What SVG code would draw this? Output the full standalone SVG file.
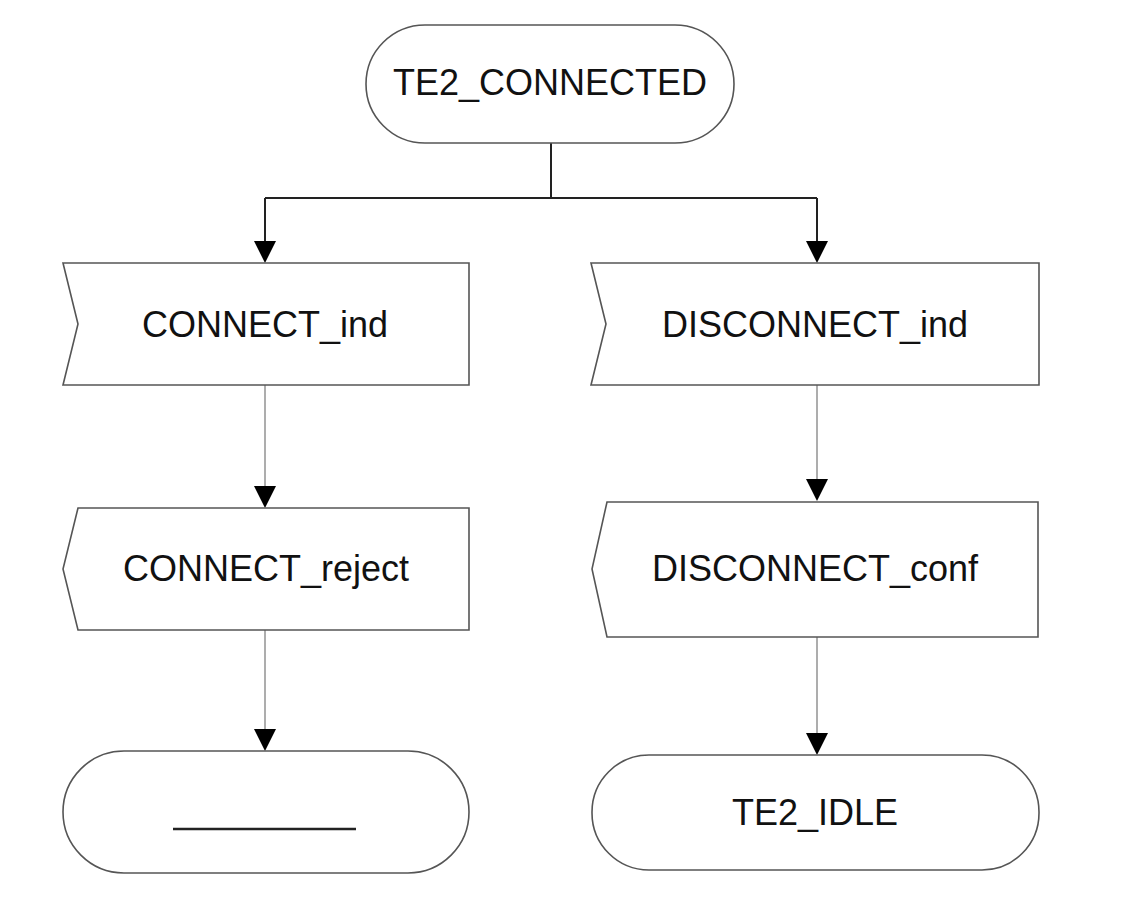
<svg xmlns="http://www.w3.org/2000/svg" width="1130" height="912" viewBox="0 0 1130 912">
<style>
.shape{fill:#fff;stroke:#555;stroke-width:1.6}
.lbl{font-family:"Liberation Sans",Arial,sans-serif;font-size:36px;fill:#111;text-anchor:middle;dominant-baseline:central}
.conn{fill:none;stroke:#222;stroke-width:2}
.connl{fill:none;stroke:#999;stroke-width:1.6}
</style>
<defs>
<marker id="arr" viewBox="0 0 22 22" refX="11" refY="22" markerWidth="22" markerHeight="22" markerUnits="userSpaceOnUse" orient="auto-start-reverse">
<path d="M0,0 L22,0 L11,22 Z" fill="#000"/>
</marker>
</defs>
<rect width="1130" height="912" fill="#fff"/>
<g id="connectors">
<path class="conn" d="M551,143 V198 M265,198 H817"/>
<path class="conn" d="M265,198 V241"/>
<path class="conn" d="M817,198 V241"/>
<path d="M254,241 L276,241 L265,263 Z" fill="#000"/>
<path d="M806,241 L828,241 L817,263 Z" fill="#000"/>
<path class="connl" d="M265,385 V486"/>
<path d="M254,486 L276,486 L265,508 Z" fill="#000"/>
<path class="connl" d="M817,385 V479"/>
<path d="M806,479 L828,479 L817,501 Z" fill="#000"/>
<path class="connl" d="M265,630 V729"/>
<path d="M254,729 L276,729 L265,751 Z" fill="#000"/>
<path class="connl" d="M817,637 V733"/>
<path d="M806,733 L828,733 L817,755 Z" fill="#000"/>
</g>
<g id="te2_connected">
<rect class="shape" x="366" y="25" width="368" height="118" rx="59" ry="59"/>
<text class="lbl" x="550" y="82">TE2_CONNECTED</text>
</g>
<g id="connect_ind">
<path class="shape" d="M63,263 H469 V385 H63 L78,324 Z"/>
<text class="lbl" x="265" y="324">CONNECT_ind</text>
</g>
<g id="disconnect_ind">
<path class="shape" d="M591,263 H1039 V385 H591 L606,324 Z"/>
<text class="lbl" x="815" y="324">DISCONNECT_ind</text>
</g>
<g id="connect_reject">
<path class="shape" d="M78,508 H469 V630 H78 L63,569 Z"/>
<text class="lbl" x="266" y="568">CONNECT_reject</text>
</g>
<g id="disconnect_conf">
<path class="shape" d="M607,502 H1038 V637 H607 L592,569 Z"/>
<text class="lbl" x="815" y="568">DISCONNECT_conf</text>
</g>
<g id="dash_state">
<rect class="shape" x="63" y="751" width="406" height="122" rx="61" ry="61"/>
<line x1="173" y1="829" x2="356" y2="829" stroke="#222" stroke-width="2.5"/>
</g>
<g id="te2_idle">
<rect class="shape" x="592" y="755" width="447" height="115" rx="57" ry="57"/>
<text class="lbl" x="815" y="812">TE2_IDLE</text>
</g>
</svg>
